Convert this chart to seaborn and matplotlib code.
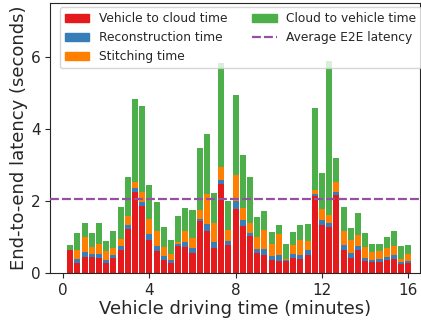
import numpy as np
import pandas as pd
import matplotlib
matplotlib.use("Agg")
import matplotlib.pyplot as plt
import seaborn as sns
from matplotlib.patches import Patch
from matplotlib.lines import Line2D

# One sample every 20 seconds of driving
sample_index = np.arange(1, 49)
minutes = sample_index / 3.0

# Per-sample latency components (seconds)
vehicle_to_cloud = [0.64, 0.27, 0.44, 0.44, 0.42, 0.28, 0.42, 0.64, 1.22, 2.25, 1.86, 0.92,
                    0.61, 0.36, 0.28, 0.75, 0.72, 0.56, 1.44, 1.17, 0.69, 2.47, 0.78, 1.78,
                    1.31, 1.03, 0.56, 0.50, 0.36, 0.33, 0.33, 0.42, 0.39, 0.50, 2.14, 1.33,
                    1.28, 2.17, 0.64, 0.42, 0.64, 0.33, 0.31, 0.31, 0.36, 0.39, 0.25, 0.28]
reconstruction = [0.00, 0.12, 0.14, 0.09, 0.11, 0.08, 0.08, 0.11, 0.11, 0.11, 0.11, 0.16,
                  0.14, 0.11, 0.08, 0.06, 0.14, 0.13, 0.06, 0.19, 0.17, 0.11, 0.11, 0.22,
                  0.16, 0.08, 0.11, 0.17, 0.11, 0.17, 0.03, 0.11, 0.11, 0.14, 0.05, 0.14,
                  0.11, 0.08, 0.14, 0.14, 0.11, 0.09, 0.05, 0.08, 0.08, 0.11, 0.06, 0.05]
stitching = [0.00, 0.25, 0.42, 0.19, 0.28, 0.25, 0.19, 0.19, 0.25, 0.17, 0.28, 0.42,
             0.42, 0.25, 0.17, 0.05, 0.31, 0.28, 0.25, 0.83, 0.53, 0.36, 0.30, 0.72,
             0.34, 0.28, 0.33, 0.52, 0.34, 0.58, 0.03, 0.25, 0.42, 0.25, 0.12, 0.31,
             0.22, 0.28, 0.39, 0.36, 0.31, 0.30, 0.22, 0.22, 0.25, 0.25, 0.08, 0.20]
cloud_to_vehicle = [0.14, 0.47, 0.39, 0.39, 0.58, 0.28, 0.48, 0.89, 1.09, 2.30, 2.39, 0.94,
                    0.80, 0.56, 0.39, 0.72, 0.64, 0.78, 1.72, 1.67, 0.83, 2.91, 0.81, 2.22,
                    1.47, 1.28, 0.56, 0.53, 0.33, 0.25, 0.42, 0.36, 0.41, 0.47, 2.27, 1.00,
                    4.29, 0.66, 0.66, 0.33, 0.61, 0.39, 0.23, 0.20, 0.31, 0.42, 0.36, 0.25]
avg_latency = 2.05

series_labels = ["Vehicle to cloud time", "Reconstruction time",
                 "Stitching time", "Cloud to vehicle time"]
avg_label = "Average E2E latency"

pal = sns.color_palette("Set1")
c_red, c_blue, c_green, c_purple, c_orange = pal[0], pal[1], pal[2], pal[3], pal[4]

df = pd.DataFrame({
    "minutes": minutes,
    "v2c": vehicle_to_cloud,
    "rec": reconstruction,
    "sti": stitching,
    "c2v": cloud_to_vehicle,
})
df["top_red"] = df["v2c"]
df["top_blue"] = df["top_red"] + df["rec"]
df["top_orange"] = df["top_blue"] + df["sti"]
df["top_green"] = df["top_orange"] + df["c2v"]

sns.set_style("ticks")
plt.rcParams["font.family"] = ["DejaVu Sans"]

fig = plt.figure(figsize=(4.21, 3.21), dpi=100)
ax = fig.add_axes([0.119, 0.15, 0.879, 0.84])

# Stack by drawing cumulative heights from the top segment down
for col, color in [("top_green", c_green), ("top_orange", c_orange),
                   ("top_blue", c_blue), ("top_red", c_red)]:
    sns.barplot(data=df, x="minutes", y=col, native_scale=True, width=0.84,
                color=color, saturation=1, errorbar=None, linewidth=0, ax=ax)

ax.axhline(avg_latency, color=c_purple, linestyle="--", linewidth=1.6,
           dashes=(4, 1.4), zorder=3)

ax.set_xlim(-0.6, 16.55)
ax.set_ylim(0, 7.5)
ax.set_xticks([0, 4, 8, 12, 16])
ax.set_yticks([0, 2, 4, 6])
ax.tick_params(labelsize=11)
ax.set_xlabel("Vehicle driving time (minutes)", fontsize=13, labelpad=2)
ax.set_ylabel("End-to-end latency (seconds)", fontsize=13, labelpad=2)

handles = [Patch(color=c_red), Patch(color=c_blue), Patch(color=c_orange),
           Patch(color=c_green), Line2D([], [], color=c_purple, linestyle="--",
                                        linewidth=1.6, dashes=(4, 1.4))]
labels = series_labels[:3] + [series_labels[3], avg_label]
ax.legend(handles, labels, ncol=2, loc="upper center", bbox_to_anchor=(0.515, 0.985),
          fontsize=8.8, borderaxespad=0, handlelength=2.0)

fig.savefig("out.png", dpi=100)
